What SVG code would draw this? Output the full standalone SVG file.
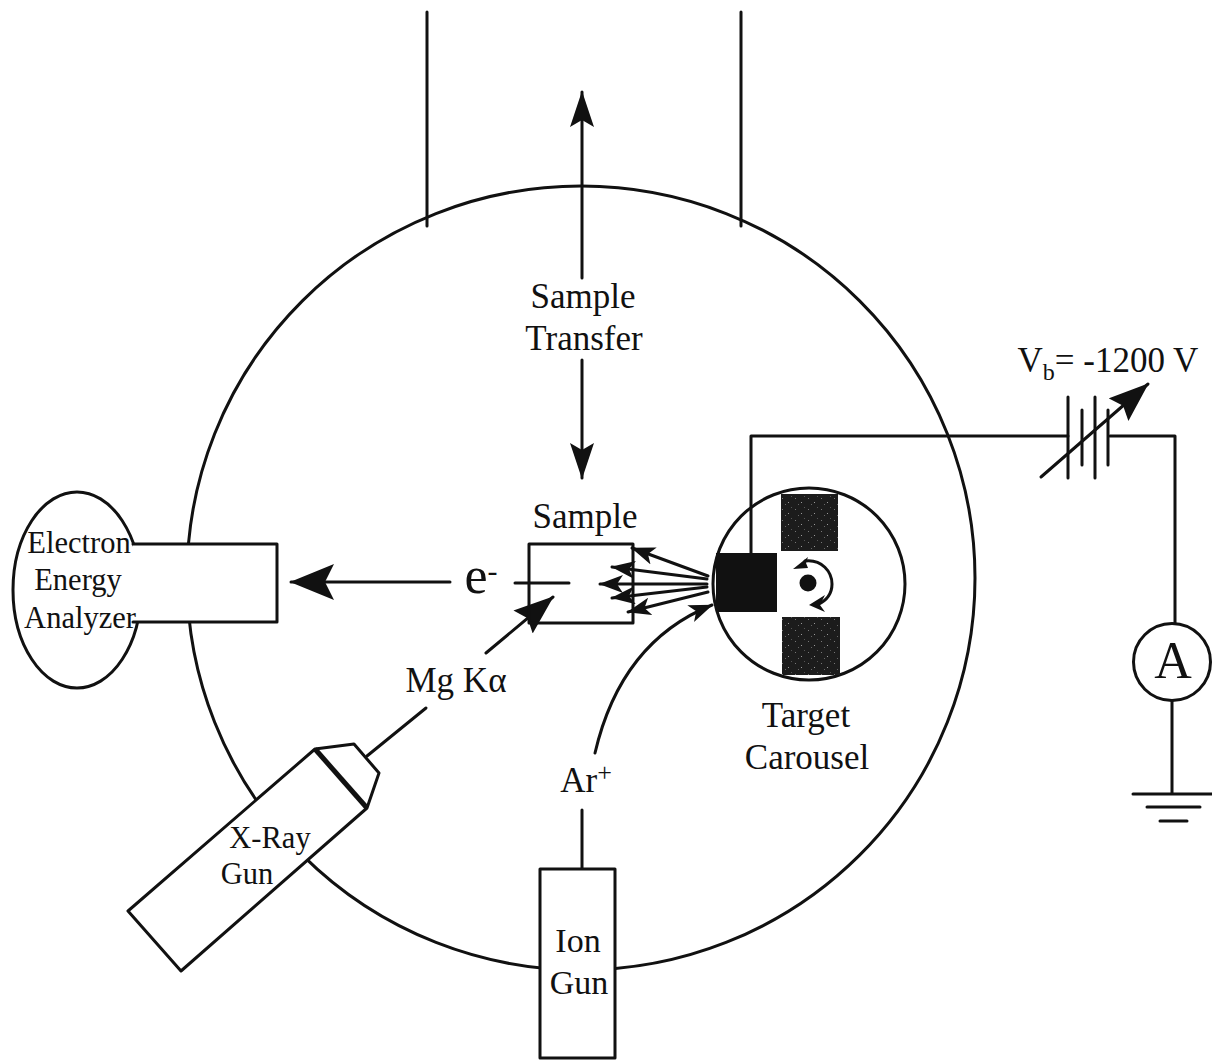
<svg xmlns="http://www.w3.org/2000/svg" width="1212" height="1062" viewBox="0 0 1212 1062">
<defs>
<marker id="h" viewBox="0 0 36 24" refX="35" refY="12" markerWidth="36" markerHeight="24" markerUnits="userSpaceOnUse" orient="auto"><path d="M0 0L36 12L0 24L7 12Z" fill="#111"/></marker>
<marker id="s" viewBox="0 0 24 18" refX="23" refY="9" markerWidth="24" markerHeight="18" markerUnits="userSpaceOnUse" orient="auto"><path d="M0 0L24 9L0 18L6 9Z" fill="#111"/></marker>
<marker id="b" viewBox="0 0 44 36" refX="43" refY="18" markerWidth="44" markerHeight="36" markerUnits="userSpaceOnUse" orient="auto"><path d="M0 0L44 18L0 36L9 18Z" fill="#111"/></marker>
<marker id="m" viewBox="0 0 40 30" refX="39" refY="15" markerWidth="40" markerHeight="30" markerUnits="userSpaceOnUse" orient="auto"><path d="M0 0L40 15L0 30L6 15Z" fill="#111"/></marker>
<pattern id="sp" width="13" height="11" patternUnits="userSpaceOnUse"><rect width="13" height="11" fill="#1c1c1c"/><rect x="2" y="3" width="1" height="1" fill="#777"/><rect x="8" y="7" width="1" height="1" fill="#999"/><rect x="11" y="1" width="1" height="1" fill="#555"/><rect x="5" y="9" width="1" height="1" fill="#666"/></pattern>
</defs>
<style>
.l{fill:none;stroke:#111;stroke-width:3;stroke-linecap:round;stroke-linejoin:round}
.w{fill:#fff;stroke:#111;stroke-width:3;stroke-linejoin:round}
.k{fill:#111;stroke:none}
.d{fill:url(#sp);stroke:none}
text{font-family:"Liberation Serif","Times New Roman",serif;font-size:35px;fill:#111;text-anchor:middle}
.an{font-size:30.5px}
</style>
<rect width="1212" height="1062" fill="#fff"/>
<g id="chamber"><ellipse class="l" cx="581" cy="578" rx="394" ry="392"/>
<path class="l" d="M427 12V226M741 12V226"/></g>
<g id="connectors">
<path class="l" d="M582 278V92" marker-end="url(#h)"/>
<path class="l" d="M582 360V478" marker-end="url(#h)"/>
<path class="l" d="M450 582H291" marker-end="url(#b)"/>
<path class="l" d="M515 583H569"/>
<path class="l" d="M708 576L632 548" marker-end="url(#s)"/>
<path class="l" d="M707 579L612 567" marker-end="url(#s)"/>
<path class="l" d="M707 584H600" marker-end="url(#s)"/>
<path class="l" d="M707 587L612 598" marker-end="url(#s)"/>
<path class="l" d="M708 592L628 612" marker-end="url(#s)"/>
<path class="l" d="M426 708L367 756"/>
<path class="l" d="M486 653L553 597" marker-end="url(#m)"/>
<path class="l" d="M595 753C612 680 650 630 712 605" marker-end="url(#s)"/>
<path class="l" d="M582 810V869"/>
<path class="l" d="M751 553V436H1068M1110 436H1175V623M1172 700V794M1133 794H1212M1147 807H1200M1160 821H1187"/>
<path class="l" d="M1068 397V478M1082 410V465M1095 397V478M1108 410V465"/>
<path class="l" d="M1041 477L1148 384" marker-end="url(#m)"/>
</g>
<g id="analyzer"><ellipse class="l" cx="77" cy="590" rx="64" ry="98"/>
<path d="M133 544H277V622H133Z" fill="#fff"/><path class="l" d="M133 544H277V622H133"/>
<text class="an" x="79" y="553" style="font-size:30.5px">Electron</text>
<text class="an" x="78" y="590" style="font-size:30.5px">Energy</text>
<text class="an" x="80" y="628" style="font-size:30.5px">Analyzer</text></g>
<g id="sample"><path class="l" d="M529 544H633V623H529Z"/><text x="585" y="528">Sample</text></g>
<g id="carousel"><circle class="l" cx="809" cy="584" r="96"/>
<rect class="k" x="716" y="553" width="61" height="59"/>
<rect class="d" x="781" y="494" width="57" height="57"/>
<rect class="d" x="782" y="617" width="58" height="58"/>
<circle class="k" cx="808" cy="583" r="8.5"/>
<path class="l" d="M805 561C822 559 832 572 832 584C832 594 826 601 817 605"/>
<path class="k" d="M793 569L808 557L806 563L808 568Z M809 605L825 595L820 605L825 612Z"/>
<text x="806" y="727">Target</text><text x="807" y="769">Carousel</text></g>
<g id="xray"><path class="w" d="M128 911L181 971L367 808L379 773L354 744L315 749Z"/>
<path d="M315 749L367 808" fill="none" stroke="#111" stroke-width="5"/>
<text x="270" y="848" style="font-size:30.5px">X-Ray</text><text x="247" y="884" style="font-size:30.5px">Gun</text></g>
<g id="iongun"><rect class="w" x="540" y="869" width="75" height="189"/>
<text x="578" y="952" style="font-size:34px">Ion</text><text x="579" y="994" style="font-size:34px">Gun</text></g>
<g id="ammeter"><circle class="w" cx="1172" cy="662" r="38.5"/><text x="1173" y="678" style="font-size:52px">A</text></g>
<g id="labels">
<text x="583" y="308">Sample</text><text x="584" y="350">Transfer</text>
<text x="481" y="593" style="font-size:52px">e<tspan dy="-12" style="font-size:30px">-</tspan></text>
<text x="456" y="692">Mg Kα</text>
<text x="586" y="792">Ar<tspan dy="-11" style="font-size:26px">+</tspan></text>
<text x="1108" y="372">V<tspan dy="8" style="font-size:24px">b</tspan><tspan dy="-8">= -1200 V</tspan></text>
</g>
</svg>
